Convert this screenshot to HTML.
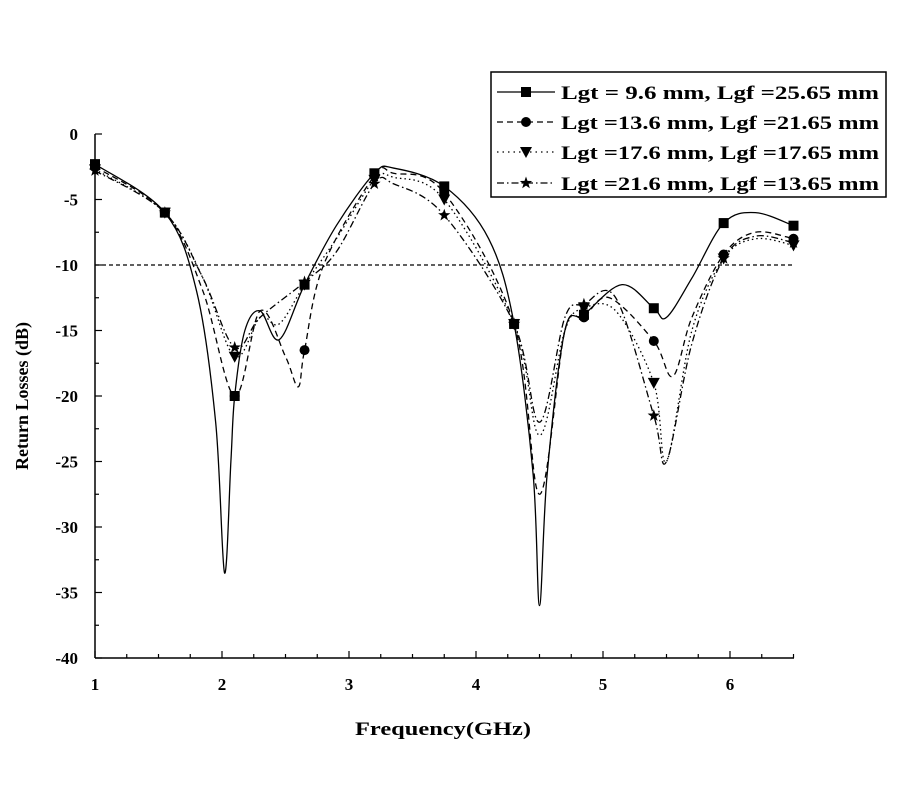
<!DOCTYPE html><html><head><style>body{margin:0;background:#fff}svg{display:block}text{font-family:"Liberation Serif",serif;font-weight:bold}</style></head><body>
<svg id="s" width="900" height="800" xmlns="http://www.w3.org/2000/svg">
<g stroke="#000" stroke-width="1.5" fill="none">
<line x1="95" y1="134" x2="95" y2="658"/><line x1="95" y1="658" x2="794" y2="658"/>
<line x1="95" y1="265" x2="794" y2="265" stroke-dasharray="4,3" stroke-width="1.2"/>
<rect x="491" y="72" width="395" height="125" stroke-width="1.5"/>
</g>
<g id="ticks" stroke="#000" stroke-width="1.2"></g>
<g id="labels" font-size="17"></g>
<g id="curves" fill="none" stroke="#000" stroke-width="1.3"></g>
<g id="marks"></g>
<text x="443" y="735" font-size="19" text-anchor="middle" textLength="176" lengthAdjust="spacingAndGlyphs">Frequency(GHz)</text>
<text transform="translate(28,396) rotate(-90)" font-size="18" text-anchor="middle">Return Losses (dB)</text>
<g font-size="19">
<text x="561" y="99" textLength="318" lengthAdjust="spacingAndGlyphs">Lgt = 9.6 mm,  Lgf =25.65 mm</text>
<text x="561" y="129" textLength="318" lengthAdjust="spacingAndGlyphs">Lgt =13.6 mm, Lgf =21.65 mm</text>
<text x="561" y="159" textLength="318" lengthAdjust="spacingAndGlyphs">Lgt =17.6 mm, Lgf =17.65 mm</text>
<text x="561" y="190" textLength="318" lengthAdjust="spacingAndGlyphs">Lgt =21.6 mm, Lgf =13.65 mm</text>
</g>
<g stroke="#000" stroke-width="1.3">
<line x1="497" y1="92" x2="555" y2="92"/>
<line x1="497" y1="122" x2="555" y2="122" stroke-dasharray="6,4"/>
<line x1="497" y1="152" x2="555" y2="152" stroke-dasharray="1.5,4"/>
<line x1="497" y1="183" x2="555" y2="183" stroke-dasharray="7,3,1.5,3"/>
</g>
</svg>
<script>
const X=f=>95+127*(f-1),Y=d=>134-13.1*d,NS="http://www.w3.org/2000/svg";
function el(p,t,a){const e=document.createElementNS(NS,t);for(const k in a)e.setAttribute(k,a[k]);document.getElementById(p).appendChild(e);return e;}
for(let f=1;f<=6.5001;f+=0.25){const maj=Math.abs(f-Math.round(f))<1e-6;el("ticks","line",{x1:X(f),x2:X(f),y1:658,y2:maj?651:654});if(maj){const t=el("labels","text",{x:X(f),y:690,"text-anchor":"middle"});t.textContent=Math.round(f);}}
for(let d=0;d>=-40;d-=2.5){const maj=d%5==0;el("ticks","line",{x1:95,x2:maj?102:99,y1:Y(d),y2:Y(d)});if(maj){const t=el("labels","text",{x:78,y:Y(d)+6,"text-anchor":"end"});t.textContent=d;}}
const S=[
[[1,-2.3],[1.55,-6],[1.8,-12],[1.95,-22],[2.02,-33.5],[2.07,-25],[2.1,-20],[2.18,-15],[2.3,-13.5],[2.45,-15.7],[2.65,-11.5],[2.9,-7],[3.2,-3],[3.35,-2.6],[3.75,-4],[4.1,-8],[4.3,-14.5],[4.45,-26],[4.5,-36],[4.56,-26],[4.7,-15],[4.85,-13.8],[5.15,-11.5],[5.4,-13.3],[5.5,-14],[5.7,-11],[5.95,-6.8],[6.2,-6],[6.5,-7]],
[[1,-2.5],[1.55,-6],[1.85,-12],[2.1,-20],[2.3,-13.5],[2.5,-17],[2.6,-19.3],[2.65,-16.5],[2.8,-10],[3.2,-3.2],[3.35,-3],[3.75,-4.5],[4.3,-14.5],[4.5,-27.5],[4.7,-15],[4.85,-14],[5.05,-12.5],[5.4,-15.8],[5.55,-18.5],[5.7,-14],[5.95,-9.2],[6.2,-7.5],[6.5,-8]],
[[1,-2.7],[1.55,-6],[1.85,-11],[2.1,-17],[2.3,-14],[2.45,-14.5],[2.65,-11.5],[2.9,-8],[3.2,-3.5],[3.35,-3.3],[3.75,-5],[4.3,-14.5],[4.5,-23],[4.7,-15],[4.85,-13.3],[5.1,-13.5],[5.4,-19],[5.5,-25],[5.7,-15],[5.95,-9.5],[6.2,-8],[6.5,-8.5]],
[[1,-2.8],[1.55,-6],[1.85,-11],[2.1,-16.3],[2.3,-14],[2.65,-11.3],[2.9,-9],[3.2,-3.8],[3.35,-3.8],[3.75,-6.2],[4.3,-14.5],[4.5,-22],[4.7,-14],[4.85,-13],[5.1,-12.5],[5.4,-21.5],[5.5,-25],[5.7,-16],[5.95,-9.5],[6.2,-7.8],[6.5,-8.3]]];
const dash=["","6,4","1.5,3","7,3,1.5,3"];
S.forEach((s,i)=>{const p=s.map(q=>[X(q[0]),Y(q[1])]);let d="M"+p[0];for(let k=0;k<p.length-1;k++){const a=p[k-1]||p[k],b=p[k],c=p[k+1],e=p[k+2]||c;d+=`C${b[0]+(c[0]-a[0])/6},${b[1]+(c[1]-a[1])/6} ${c[0]-(e[0]-b[0])/6},${c[1]-(e[1]-b[1])/6} ${c[0]},${c[1]}`;}el("curves","path",{d:d,"stroke-dasharray":dash[i]});});
function mk(i,x,y){if(i==0)el("marks","rect",{x:x-5,y:y-5,width:10,height:10});else if(i==1)el("marks","circle",{cx:x,cy:y,r:5});else if(i==2)el("marks","polygon",{points:`${x-6},${y-5} ${x+6},${y-5} ${x},${y+6}`});else{let p=[];for(let k=0;k<10;k++){const r=k%2?2.6:6.5,a=-Math.PI/2+k*Math.PI/5;p.push((x+r*Math.cos(a)).toFixed(1)+","+(y+r*Math.sin(a)).toFixed(1));}el("marks","polygon",{points:p.join(" ")});}}
const F=[1,1.55,2.1,2.65,3.2,3.75,4.3,4.85,5.4,5.95,6.5];
function val(s,f){for(let k=0;k<s.length-1;k++)if(f>=s[k][0]&&f<=s[k+1][0]){const t=(f-s[k][0])/(s[k+1][0]-s[k][0]);return s[k][1]+t*(s[k+1][1]-s[k][1]);}return s[s.length-1][1];}
S.forEach((s,i)=>F.forEach(f=>mk(i,X(f),Y(val(s,f)))));
mk(0,526,92);mk(1,526,122);mk(2,526,152);mk(3,526,183);
</script>
</body></html>
